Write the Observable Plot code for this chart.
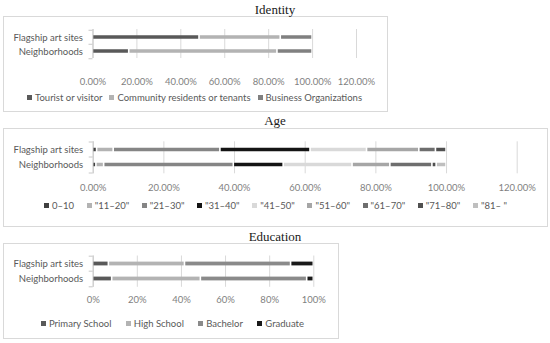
<!DOCTYPE html>
<html><head><meta charset="utf-8">
<script src="https://cdn.jsdelivr.net/npm/d3@7"></script>
<script src="https://cdn.jsdelivr.net/npm/@observablehq/plot@0.6"></script>
<style>
body{margin:0;background:#fff;}
#root{position:relative;width:550px;height:343px;overflow:hidden;font-family:Lato,sans-serif;}
.box{position:absolute;border:1px solid #d9d9d9;box-sizing:border-box;}
.title{position:absolute;left:0;width:550px;text-align:center;font-family:"Liberation Serif",serif;font-size:13px;line-height:14px;color:#1a1a1a;}
.chart{position:absolute;left:0;}
.leg{position:absolute;height:14px;}
.leg > div{font-family:Lato,sans-serif !important;font-size:9.5px !important;color:#595959 !important;margin:0 !important;min-height:0 !important;height:14px;width:100%;display:flex !important;justify-content:space-between !important;align-items:center;flex-wrap:nowrap !important;}
.leg span{display:inline-flex;align-items:center;margin:0 !important;}
.leg span > svg{margin-right:3px !important;}
</style>
</head><body>
<div id="root"></div>
<script>
const categories = ["Flagship art sites", "Neighborhoods"];

const identitySeries = ["Tourist or visitor", "Community residents or tenants", "Business Organizations"];
const identityFlagship = [0.485, 0.370, 0.145];
const identityNeighborhoods = [0.165, 0.675, 0.160];
const identityColors = ["#595959", "#b3b3b3", "#808080"];
const identityTicks = [0, 0.2, 0.4, 0.6, 0.8, 1.0, 1.2];

const ageSeries = ["0–10", "\"11–20\"", "\"21–30\"", "\"31–40\"", "\"41–50\"", "\"51–60\"", "\"61–70\"", "\"71–80\"", "\"81– \""];
const ageFlagship = [0.011, 0.047, 0.302, 0.255, 0.160, 0.148, 0.047, 0.030, 0];
const ageNeighborhoods = [0.009, 0.022, 0.367, 0.141, 0.195, 0.107, 0.119, 0.012, 0.028];
const ageColors = ["#404040", "#b3b3b3", "#858585", "#141414", "#d9d9d9", "#a6a6a6", "#6e6e6e", "#505050", "#bfbfbf"];
const ageTicks = [0, 0.2, 0.4, 0.6, 0.8, 1.0, 1.2];

const eduSeries = ["Primary School", "High School", "Bachelor", "Graduate"];
const eduFlagship = [0.071, 0.345, 0.481, 0.103];
const eduNeighborhoods = [0.086, 0.402, 0.482, 0.030];
const eduColors = ["#595959", "#b3b3b3", "#8a8a8a", "#1a1a1a"];
const eduTicks = [0, 0.2, 0.4, 0.6, 0.8, 1.0];

const root = document.getElementById("root");

function el(cls, css, text) {
  const d = document.createElement("div");
  d.className = cls;
  Object.assign(d.style, css);
  if (text) d.textContent = text;
  root.appendChild(d);
  return d;
}

function panel(cfg) {
  el("box", {left: cfg.box[0] + "px", top: cfg.box[1] + "px", width: cfg.box[2] + "px", height: cfg.box[3] + "px"});
  el("title", {top: cfg.titleTop + "px"}, cfg.title);
  const rows = [];
  cfg.values.forEach((vals, i) => vals.forEach((v, j) => {
    if (v > 0) rows.push({cat: categories[i], series: cfg.series[j], value: v});
  }));
  const step = (cfg.h - cfg.mt - cfg.mb) / categories.length;
  const chart = Plot.plot({
    width: cfg.w, height: cfg.h,
    marginLeft: cfg.ml, marginRight: cfg.mr, marginTop: cfg.mt, marginBottom: cfg.mb,
    style: {fontFamily: "Lato, sans-serif", fontSize: "9.5px", background: "transparent", overflow: "visible"},
    x: {domain: [0, cfg.ticks[cfg.ticks.length - 1]]},
    y: {domain: categories, padding: 0},
    color: {domain: cfg.series, range: cfg.colors},
    marks: [
      Plot.ruleX(cfg.ticks, {stroke: "#d9d9d9", strokeWidth: 1}),
      Plot.ruleX([0], {stroke: "#c8c8c8", strokeWidth: 1}),
      Plot.axisY(categories, {tickSize: 4, tickFormat: () => "", dy: -step / 2, stroke: "#c8c8c8", label: null}),
      Plot.axisY(categories.slice(-1), {tickSize: 4, tickFormat: () => "", dy: step / 2, stroke: "#c8c8c8", label: null}),
      Plot.barX(rows, Plot.stackX({x: "value", y: "cat", fill: "series", order: null,
        insetTop: cfg.inset, insetBottom: cfg.inset, insetLeft: 0.8, insetRight: 0.8})),
      Plot.axisX(cfg.ticks, {tickFormat: cfg.fmt, tickSize: 0, tickPadding: cfg.tp, fill: "#7f7f7f", label: null}),
      Plot.axisY({tickSize: 0, tickPadding: 10, fill: "#595959", label: null})
    ]
  });
  chart.classList.add("chart");
  chart.style.top = cfg.top + "px";
  chart.style.position = "absolute";
  root.appendChild(chart);
  const leg = Plot.legend({color: {domain: cfg.series, range: cfg.colors}, legend: "swatches", swatchSize: 5});
  const lw = el("leg", {left: cfg.leg[0] + "px", width: (cfg.leg[1] - cfg.leg[0]) + "px", top: (cfg.legY - 7) + "px"});
  lw.appendChild(leg);
}

panel({title: "Identity", titleTop: 2.6, box: [3, 16, 385, 96],
  series: identitySeries, values: [identityFlagship, identityNeighborhoods], colors: identityColors,
  ticks: identityTicks, fmt: d3.format(".2%"),
  top: 16, w: 390, h: 80, ml: 92.5, mr: 34, mt: 13, mb: 38, inset: 5.25, tp: 19.6, legY: 97, leg: [27, 362]});

panel({title: "Age", titleTop: 114, box: [3, 128, 545, 99],
  series: ageSeries, values: [ageFlagship, ageNeighborhoods], colors: ageColors,
  ticks: ageTicks, fmt: d3.format(".2%"),
  top: 128, w: 550, h: 80, ml: 92.7, mr: 33.3, mt: 13.3, mb: 34.7, inset: 5.75, tp: 10, legY: 205, leg: [44, 507]});

panel({title: "Education", titleTop: 229.6, box: [3, 243, 336, 96],
  series: eduSeries, values: [eduFlagship, eduNeighborhoods], colors: eduColors,
  ticks: eduTicks, fmt: d3.format(".0%"),
  top: 243, w: 340, h: 70, ml: 92.7, mr: 26.7, mt: 12.5, mb: 26.2, inset: 5.6, tp: 8.8, legY: 323, leg: [41, 304]});
</script>
</body></html>
